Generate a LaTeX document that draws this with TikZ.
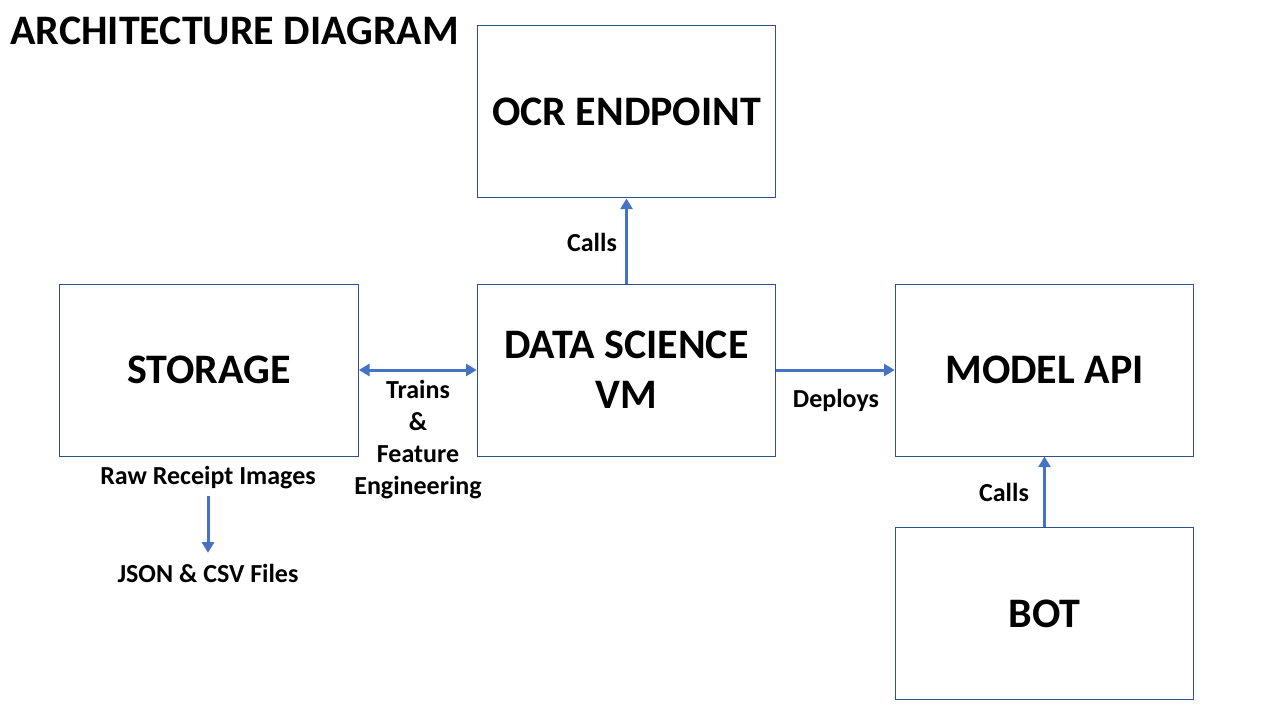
\documentclass[tikz,border=0pt]{standalone}
\usepackage{fontspec}
\setmainfont{Carlito}
\usetikzlibrary{arrows.meta}

\definecolor{boxline}{HTML}{2F528F}
\definecolor{arrowblue}{HTML}{4472C4}

\tikzset{
  block/.style={draw=boxline, line width=0.75pt, minimum width=224pt,
    minimum height=129pt, inner sep=0pt, align=center,
    font=\fontsize{31.5}{37.5}\selectfont\bfseries},
  label/.style={align=center, inner sep=1pt,
    font=\fontsize{19.5}{24}\selectfont\bfseries},
  link/.style={draw=arrowblue, line width=2.25pt,
    arrows={-Triangle[length=8pt,width=9pt]}},
}

\begin{document}
\begin{tikzpicture}[x=0.75pt,y=-0.75pt]
  \useasboundingbox (0,0) rectangle (1280,720);
  \node [anchor=west, font=\fontsize{31.5}{35}\selectfont\bfseries, inner sep=0pt] (title) at (10,31) {ARCHITECTURE DIAGRAM};
  % boxes
  \node [block] (ocr) at (626.5,112) {OCR ENDPOINT};
  \node [block] (storage) at (209,370) {STORAGE};
  \node [block] (dsvm) at (626.5,370) {DATA SCIENCE\\VM};
  \node [block] (api) at (1044.5,370) {MODEL API};
  \node [block] (bot) at (1044.5,613.5) {BOT};
  % texts
  \node [label] (callsocr) at (592,242) {Calls};
  \node [label] (trains) at (418,440) {Trains\\\&\\Feature\\Engineering};
  \node [label] (deploys) at (836,400) {Deploys};
  \node [label] (callsapi) at (1004,492) {Calls};
  \node [label] (raw) at (208,478) {Raw Receipt Images};
  \node [label] (json) at (208,573) {JSON \& CSV Files};
  % arrows
  \draw [link, arrows={Triangle[length=8pt,width=9pt]-Triangle[length=8pt,width=9pt]}] (storage) -- (dsvm);
  \draw [link] (dsvm) -- (ocr);
  \draw [link] (dsvm) -- (api);
  \draw [link] (bot) -- (api);
  \draw [link, shorten <=4pt, shorten >=7pt] (raw.south) -- (json.north);
\end{tikzpicture}
\end{document}
